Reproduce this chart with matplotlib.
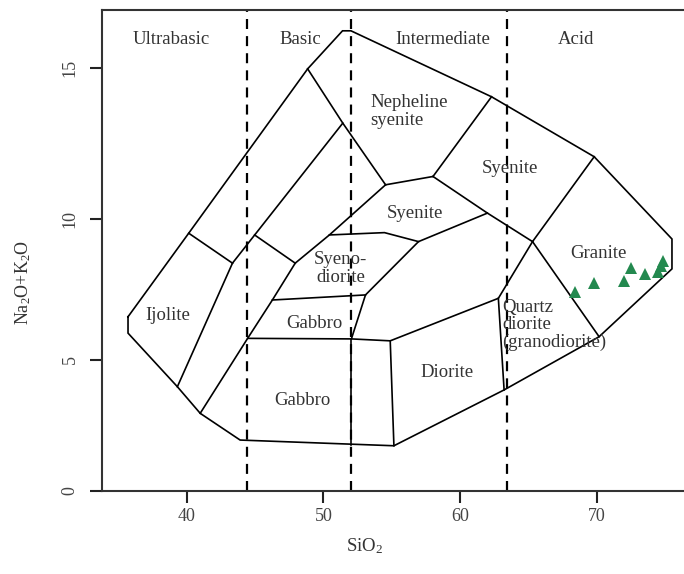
import numpy as np
import matplotlib
matplotlib.use("Agg")
import matplotlib.pyplot as plt

plt.rcParams['font.family'] = ['Liberation Serif', 'DejaVu Serif']
plt.rcParams['mathtext.fontset'] = 'custom'
plt.rcParams['mathtext.rm'] = 'Liberation Serif'
plt.rcParams['mathtext.it'] = 'Liberation Serif:italic'

# ---------------- data (SiO2 wt%, Na2O+K2O wt%) ----------------
outer_x = [35.71, 40.15, 48.85, 51.40, 52.02, 62.30, 69.81, 75.50, 75.50, 70.17,
           63.22, 55.16, 43.91, 40.99, 39.32, 35.71, 35.71]
outer_y = [6.57, 9.51, 14.97, 16.18, 16.18, 14.07, 12.10, 9.31, 8.27, 5.85,
           3.89, 1.77, 1.99, 3.01, 4.01, 5.98, 6.57]

ijolite_top_x = [40.15, 43.35]
ijolite_top_y = [9.51, 8.47]
ijolite_right_x = [43.35, 39.32]
ijolite_right_y = [8.47, 4.01]
band_a_x = [43.35, 51.42]
band_a_y = [8.47, 13.21]
neph_left_x = [48.85, 51.42, 54.55]
neph_left_y = [14.97, 13.21, 11.16]
cross_x = [44.97, 47.94]
cross_y = [9.45, 8.47]
band_b_x = [40.99, 44.46, 46.27, 47.94, 50.44, 54.55]
band_b_y = [3.01, 5.79, 7.17, 8.47, 9.45, 11.16]
neph_right_x = [62.30, 58.02]
neph_right_y = [14.07, 11.44]
neph_base_x = [54.55, 58.02]
neph_base_y = [11.16, 11.44]
syenite_base_x = [58.02, 62.00, 65.30]
syenite_base_y = [11.44, 10.20, 9.22]
granite_left_x = [69.81, 65.30, 70.17]
granite_left_y = [12.10, 9.22, 5.85]
syenodiorite_top_x = [50.44, 54.47, 56.96]
syenodiorite_top_y = [9.45, 9.53, 9.22]
monz_left_x = [62.00, 56.96, 53.08, 52.05]
monz_left_y = [10.20, 9.22, 7.35, 5.77]
syenodiorite_base_x = [46.27, 53.08]
syenodiorite_base_y = [7.17, 7.35]
gabbro_top_x = [44.46, 52.05, 54.89, 62.80, 65.30]
gabbro_top_y = [5.79, 5.77, 5.70, 7.23, 9.22]
gabbro_split_x = [52.05, 52.05]
gabbro_split_y = [5.77, 1.80]
diorite_left_x = [54.89, 55.16]
diorite_left_y = [5.70, 1.77]
qdiorite_left_x = [62.80, 63.22]
qdiorite_left_y = [7.23, 3.89]

divider_sio2 = [44.4, 52.0, 63.4]

sample_sio2 = [68.43, 69.80, 72.00, 72.48, 73.51, 74.50, 74.70, 74.86]
sample_alk = [7.47, 7.78, 7.86, 8.29, 8.10, 8.17, 8.37, 8.54]

header_text = ['Ultrabasic', 'Basic', 'Intermediate', 'Acid']
header_x = [38.9, 48.3, 58.72, 68.5]
header_y = [15.9, 15.9, 15.9, 15.9]

field_text = ['Ijolite', 'Nepheline\nsyenite', 'Syenite', 'Syenite', 'Syeno-\ndiorite',
              'Gabbro', 'Gabbro', 'Diorite', 'Quartz\ndiorite\n(granodiorite)', 'Granite']
field_x = [38.62, 53.44, 63.64, 56.69, 51.27, 49.33, 48.49, 59.05, 63.08, 70.11]
field_y = [6.63, 13.59, 11.72, 10.20, 8.29, 6.34, 3.51, 4.53, 6.27, 8.82]
field_ha = ['center', 'left', 'center', 'center', 'center', 'center', 'center',
            'center', 'left', 'center']

xticks = [40, 50, 60, 70]
yticks = [0, 5, 10, 15]

# ---------------- figure ----------------
fig = plt.figure(figsize=(6.84, 5.74), dpi=100)
ax = fig.add_axes([101.5 / 684, 1 - 491 / 574, 1 - 101.5 / 684, (491 - 9.5) / 574])


def fwd(v):
    v = np.asarray(v, dtype=float)
    return 25.2 * v + 0.2 * v * v


def inv(u):
    u = np.asarray(u, dtype=float)
    return 2.5 * (np.sqrt(np.maximum(635.04 + 0.8 * u, 0.0)) - 25.2)


ax.set_yscale('function', functions=(fwd, inv))
ax.set_xlim(33.77, 76.38)
ax.set_ylim(0, 16.85)

line_kw = dict(color='black', lw=1.2, solid_joinstyle='miter')
segments = [
    (outer_x, outer_y), (ijolite_top_x, ijolite_top_y), (ijolite_right_x, ijolite_right_y),
    (band_a_x, band_a_y), (neph_left_x, neph_left_y), (cross_x, cross_y),
    (band_b_x, band_b_y), (neph_right_x, neph_right_y), (neph_base_x, neph_base_y),
    (syenite_base_x, syenite_base_y), (granite_left_x, granite_left_y),
    (syenodiorite_top_x, syenodiorite_top_y), (monz_left_x, monz_left_y),
    (syenodiorite_base_x, syenodiorite_base_y), (gabbro_top_x, gabbro_top_y),
    (gabbro_split_x, gabbro_split_y), (diorite_left_x, diorite_left_y),
    (qdiorite_left_x, qdiorite_left_y),
]
for xs, ys in segments:
    ax.plot(xs, ys, **line_kw)

for xv in divider_sio2:
    ax.axvline(xv, color='black', lw=1.6, linestyle=(0, (4.5, 3.2)))

ax.plot(sample_sio2, sample_alk, linestyle='none', marker='^', ms=8,
        color='#23894f', markeredgewidth=0)

for t, x, y in zip(header_text, header_x, header_y):
    ax.text(x, y, t, ha='center', va='center', fontsize=13.5, color='#333333')

for t, x, y, ha in zip(field_text, field_x, field_y, field_ha):
    ax.text(x, y, t, ha=ha, va='center', fontsize=13.5, color='#333333',
            linespacing=1.05, multialignment='left' if ha == 'left' else 'center')

ax.set_xticks(xticks)
ax.set_yticks(yticks)
ax.set_xticklabels([str(v) for v in xticks])
ax.set_yticklabels([str(v) for v in yticks])
ax.tick_params(axis='both', direction='out', length=8.5, width=1.5, labelsize=13,
               colors='#222222', labelcolor='#444444')
ax.tick_params(axis='x', pad=4)
ax.tick_params(axis='y', pad=8)
for lab in ax.get_yticklabels():
    lab.set_rotation(90)
    lab.set_va('center')
    lab.set_ha('right')
ax.minorticks_off()

for side in ['left', 'bottom', 'top']:
    ax.spines[side].set_linewidth(1.5)
    ax.spines[side].set_color('#333333')
ax.spines['right'].set_visible(False)

fig.text(23 / 684, 1 - 282 / 574, r'Na$_2$O+K$_2$O', rotation=90, ha='center',
         va='center', fontsize=13, color='#333333')
fig.text(365 / 684, 1 - 546 / 574, r'SiO$_2$', ha='center', va='center',
         fontsize=13.5, color='#333333')

fig.savefig('out.png', dpi=100)
